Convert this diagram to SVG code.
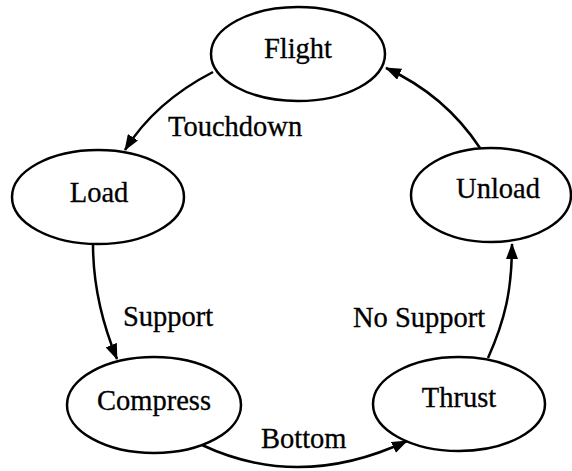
<svg xmlns="http://www.w3.org/2000/svg" width="572" height="471" viewBox="0 0 572 471">
<defs>
<style>
.n ellipse{fill:#fff;stroke:#000;stroke-width:2.5}
text{font-family:"Liberation Serif","Times New Roman",serif;font-size:28.5px;fill:#000;stroke:#000;stroke-width:0.3}
.n text{text-anchor:middle}
#edges path{fill:none;stroke:#000;stroke-width:2.5}
</style>
<marker id="ah" viewBox="0 0 16 12" refX="15" refY="6" markerWidth="16" markerHeight="12" markerUnits="userSpaceOnUse" orient="auto">
<path d="M0,0 L16,6 L0,12 Z" fill="#000"/>
</marker>
</defs>
<rect width="572" height="471" fill="#fff"/>
<g id="edges">
<path d="M213,72 Q155,102 125,150" marker-end="url(#ah)"/>
<path d="M93,244 C93,290 105,330 117,359" marker-end="url(#ah)"/>
<path d="M202,445 Q300,491 407,441" marker-end="url(#ah)"/>
<path d="M488,358 C505,320 512,290 512,244" marker-end="url(#ah)"/>
<path d="M480,148 Q445,95 386,68" marker-end="url(#ah)"/>
<text x="168" y="136">Touchdown</text>
<text x="123" y="326">Support</text>
<text x="261" y="448">Bottom</text>
<text x="353" y="327">No Support</text>
</g>
<g id="flight" class="n"><ellipse cx="298" cy="54" rx="87" ry="47"/><text x="298" y="58">Flight</text></g>
<g id="load" class="n"><ellipse cx="98" cy="197" rx="86" ry="47"/><text x="99" y="202">Load</text></g>
<g id="unload" class="n"><ellipse cx="491" cy="195" rx="80" ry="47"/><text x="498" y="198">Unload</text></g>
<g id="compress" class="n"><ellipse cx="154" cy="405" rx="87" ry="48"/><text x="154" y="410">Compress</text></g>
<g id="thrust" class="n"><ellipse cx="459" cy="404" rx="86" ry="47"/><text x="459" y="407">Thrust</text></g>
</svg>
